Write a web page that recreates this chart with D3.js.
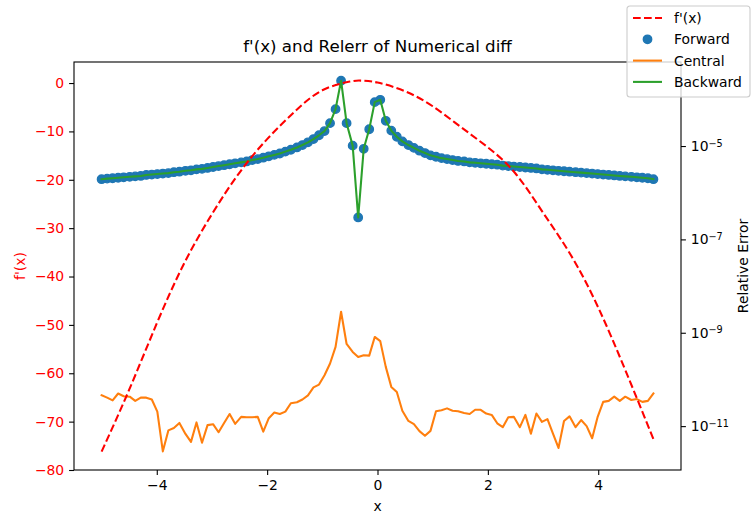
<!DOCTYPE html>
<html>
<head>
<meta charset="utf-8">
<script src="https://cdnjs.cloudflare.com/ajax/libs/d3/7.8.5/d3.min.js"></script>
<style>
  body { margin: 0; background: #fff; }
  text { font-family: "DejaVu Sans", sans-serif; }
</style>
</head>
<body>
<script>
// sample grid (100 points between -5 and 5)
var xs = [
  -5.00,-4.90,-4.80,-4.70,-4.60,-4.49,-4.39,-4.29,-4.19,-4.09,
  -3.99,-3.89,-3.79,-3.69,-3.59,-3.48,-3.38,-3.28,-3.18,-3.08,
  -2.98,-2.88,-2.78,-2.68,-2.58,-2.47,-2.37,-2.27,-2.17,-2.07,
  -1.97,-1.87,-1.77,-1.67,-1.57,-1.46,-1.36,-1.26,-1.16,-1.06,
  -0.96,-0.86,-0.76,-0.66,-0.56,-0.45,-0.35,-0.25,-0.15,-0.05,
   0.05, 0.15, 0.25, 0.35, 0.45, 0.56, 0.66, 0.76, 0.86, 0.96,
   1.06, 1.16, 1.26, 1.36, 1.46, 1.57, 1.67, 1.77, 1.87, 1.97,
   2.07, 2.17, 2.27, 2.37, 2.47, 2.58, 2.68, 2.78, 2.88, 2.98,
   3.08, 3.18, 3.28, 3.38, 3.48, 3.59, 3.69, 3.79, 3.89, 3.99,
   4.09, 4.19, 4.29, 4.39, 4.49, 4.60, 4.70, 4.80, 4.90, 5.00
];

// relative error of the forward difference (right axis, log)
var forwardErr = [
  1.95e-6,2.00e-6,2.04e-6,2.09e-6,2.14e-6,2.19e-6,2.24e-6,2.29e-6,2.40e-6,2.45e-6,
  2.51e-6,2.57e-6,2.63e-6,2.75e-6,2.82e-6,2.95e-6,3.02e-6,3.16e-6,3.24e-6,3.39e-6,
  3.55e-6,3.72e-6,3.89e-6,4.07e-6,4.27e-6,4.47e-6,4.68e-6,5.01e-6,5.25e-6,5.62e-6,
  6.03e-6,6.46e-6,6.92e-6,7.59e-6,8.32e-6,9.33e-6,1.05e-5,1.20e-5,1.41e-5,1.70e-5,
  2.09e-5,3.09e-5,6.17e-5,2.51e-4,3.09e-5,1.02e-5,2.95e-7,8.71e-6,2.29e-5,8.71e-5,
  9.77e-5,3.47e-5,2.14e-5,1.58e-5,1.26e-5,1.05e-5,9.12e-6,7.94e-6,7.08e-6,6.31e-6,
  5.89e-6,5.50e-6,5.25e-6,5.01e-6,4.79e-6,4.68e-6,4.47e-6,4.37e-6,4.27e-6,4.17e-6,
  4.07e-6,3.98e-6,3.80e-6,3.72e-6,3.63e-6,3.55e-6,3.47e-6,3.39e-6,3.31e-6,3.16e-6,
  3.09e-6,3.02e-6,2.95e-6,2.88e-6,2.82e-6,2.75e-6,2.69e-6,2.63e-6,2.57e-6,2.51e-6,
  2.45e-6,2.40e-6,2.34e-6,2.29e-6,2.24e-6,2.19e-6,2.14e-6,2.09e-6,2.04e-6,1.95e-6
];

// relative error of the central difference
var centralErr = [
  4.57e-11,4.07e-11,3.55e-11,5.00e-11,4.37e-11,4.27e-11,3.47e-11,4.07e-11,4.07e-11,3.72e-11,
  2.04e-11,2.88e-12,8.10e-12,9.10e-12,1.17e-11,6.80e-12,4.60e-12,1.20e-11,4.40e-12,1.05e-11,
  1.10e-11,7.40e-12,1.17e-11,1.82e-11,1.12e-11,1.58e-11,1.55e-11,1.55e-11,1.58e-11,7.60e-12,
  1.48e-11,1.95e-11,1.82e-11,2.04e-11,3.09e-11,3.24e-11,3.72e-11,4.57e-11,6.76e-11,7.76e-11,
  1.23e-10,2.19e-10,5.00e-10,2.82e-9, 5.75e-10,3.89e-10,3.02e-10,3.31e-10,3.24e-10,8.13e-10,
  6.61e-10,1.86e-10,6.92e-11,5.37e-11,2.14e-11,1.29e-11,1.10e-11,7.80e-12,6.20e-12,7.90e-12,
  2.09e-11,2.19e-11,2.40e-11,2.14e-11,2.09e-11,1.91e-11,1.82e-11,2.24e-11,2.24e-11,1.86e-11,
  1.74e-11,1.15e-11,9.50e-12,1.55e-11,1.58e-11,9.50e-12,1.74e-11,6.90e-12,1.86e-11,1.23e-11,
  1.41e-11,6.90e-12,3.40e-12,1.29e-11,1.62e-11,9.50e-12,1.35e-11,1.00e-11,5.50e-12,1.58e-11,
  3.31e-11,3.47e-11,4.27e-11,3.47e-11,4.27e-11,3.63e-11,3.80e-11,3.31e-11,3.47e-11,5.00e-11
];

// backward difference error sits right on top of the forward one in the picture
var backwardErr = forwardErr.slice();

// f'(x) (left axis)
var fpX = [-5.0,-4.5,-4.0,-3.5,-3.0,-2.5,-2.0,-1.5,-1.0,-0.5,-0.3, 0.0, 0.5, 1.0, 1.5, 2.0, 2.5, 3.0, 3.5, 4.0, 4.5, 5.0];
var fpY = [-76.2,-63.4,-49.7,-37.2,-27.1,-18.5,-11.6,-5.9,-1.5,0.3,0.5,0.1,-1.7,-4.8,-9.0,-13.3,-18.7,-26.8,-35.5,-46.4,-59.6,-73.6];

var xTicks = [-4, -2, 0, 2, 4];
var leftTicks = [0, -10, -20, -30, -40, -50, -60, -70, -80];
var rightTicks = [1e-5, 1e-7, 1e-9, 1e-11];
var rightTickExp = ["\u22125", "\u22127", "\u22129", "\u221211"];

var width = 751,
    height = 513;

// plot box
var padL = 74, padR = 681, padT = 62, padB = 470;

var svg = d3.select("body").append("svg")
    .attr("width", width)
    .attr("height", height);

var x = d3.scaleLinear().domain([-5.5, 5.5]).range([padL, padR]);
var yL = d3.scaleLinear().domain([-80.0, 4.35]).range([padB, padT]);
var yR = d3.scaleLog().domain([Math.pow(10, -11.94), Math.pow(10, -3.2)]).range([padB, padT]);

svg.append("defs").append("clipPath").attr("id", "clip")
  .append("rect")
    .attr("x", padL).attr("y", padT)
    .attr("width", padR - padL).attr("height", padB - padT);

var plot = svg.append("g").attr("clip-path", "url(#clip)");

// forward: markers only
plot.append("g").selectAll("circle")
    .data(forwardErr)
    .enter().append("circle")
    .attr("cx", function(d, i) { return x(xs[i]); })
    .attr("cy", function(d) { return yR(d); })
    .attr("r", 4.2)
    .attr("fill", "#1f77b4")
    .attr("stroke", "#1f77b4")
    .attr("stroke-width", 1.4);

var errLine = function(arr) {
  return d3.line()
    .x(function(d, i) { return x(xs[i]); })
    .y(function(d) { return yR(d); })(arr);
};

plot.append("path")
    .attr("d", errLine(centralErr))
    .attr("fill", "none")
    .attr("stroke", "#ff7f0e")
    .attr("stroke-width", 2.08)
    .attr("stroke-linejoin", "round")
    .attr("stroke-linecap", "square");

plot.append("path")
    .attr("d", errLine(backwardErr))
    .attr("fill", "none")
    .attr("stroke", "#2ca02c")
    .attr("stroke-width", 2.08)
    .attr("stroke-linejoin", "round")
    .attr("stroke-linecap", "square");

// f'(x) dashed
var fpLine = d3.line()
    .curve(d3.curveNatural)
    .x(function(d, i) { return x(fpX[i]); })
    .y(function(d) { return yL(d); });

plot.append("path")
    .attr("d", fpLine(fpY))
    .attr("fill", "none")
    .attr("stroke", "#ff0000")
    .attr("stroke-width", 2.08)
    .attr("stroke-dasharray", "7.7,3.3");

// frame
svg.append("rect")
    .attr("x", padL).attr("y", padT)
    .attr("width", padR - padL).attr("height", padB - padT)
    .attr("fill", "none")
    .attr("stroke", "#000")
    .attr("stroke-width", 1.1);

// axes
var xAxis = svg.append("g")
    .attr("transform", "translate(0," + padB + ")")
    .call(d3.axisBottom(x).tickValues(xTicks).tickSize(4.9).tickPadding(4.9).tickSizeOuter(0));

var yAxisL = svg.append("g")
    .attr("transform", "translate(" + padL + ",0)")
    .call(d3.axisLeft(yL).tickValues(leftTicks).tickSize(4.9).tickPadding(4.9).tickSizeOuter(0));

var yAxisR = svg.append("g")
    .attr("transform", "translate(" + padR + ",0)")
    .call(d3.axisRight(yR).tickValues(rightTicks).tickSize(4.9).tickPadding(4.9).tickSizeOuter(0).tickFormat(function() { return ""; }));

[xAxis, yAxisL, yAxisR].forEach(function(g) {
  g.select(".domain").remove();
  g.selectAll(".tick line").attr("stroke", "#000").attr("stroke-width", 1.1);
  g.selectAll("text").attr("font-size", "13.9px").attr("font-family", "DejaVu Sans").attr("fill", "#000");
});
yAxisL.selectAll("text").attr("fill", "#ff0000");

// power-of-ten labels on the right
yAxisR.selectAll(".tick text").each(function(d, i) {
  var t = d3.select(this).text("10");
  t.append("tspan")
    .attr("dy", "-0.45em")
    .attr("font-size", "9.7px")
    .text(rightTickExp[i]);
});

// title and labels
svg.append("text")
    .attr("x", (padL + padR) / 2)
    .attr("y", 52)
    .attr("text-anchor", "middle")
    .attr("font-size", "16.7px")
    .text("f'(x) and Relerr of Numerical diff");

svg.append("text")
    .attr("x", (padL + padR) / 2)
    .attr("y", 511)
    .attr("text-anchor", "middle")
    .attr("font-size", "13.9px")
    .text("x");

svg.append("text")
    .attr("transform", "translate(25," + ((padT + padB) / 2) + ") rotate(-90)")
    .attr("text-anchor", "middle")
    .attr("font-size", "13.9px")
    .attr("fill", "#ff0000")
    .text("f'(x)");

svg.append("text")
    .attr("transform", "translate(748," + ((padT + padB) / 2) + ") rotate(-90)")
    .attr("text-anchor", "middle")
    .attr("font-size", "13.9px")
    .text("Relative Error");

// legend (figure level, upper right)
var legend = svg.append("g").attr("transform", "translate(627,6)");

legend.append("rect")
    .attr("x", 0).attr("y", 0)
    .attr("width", 123).attr("height", 91)
    .attr("rx", 3)
    .attr("fill", "#fff")
    .attr("fill-opacity", 0.8)
    .attr("stroke", "#cccccc")
    .attr("stroke-width", 1.1);

var legendItems = [
  { label: "f'(x)", kind: "dash", color: "#ff0000" },
  { label: "Forward", kind: "dot", color: "#1f77b4" },
  { label: "Central", kind: "line", color: "#ff7f0e" },
  { label: "Backward", kind: "line", color: "#2ca02c" }
];

var rows = legend.selectAll("g.item")
    .data(legendItems)
    .enter().append("g")
    .attr("class", "item")
    .attr("transform", function(d, i) { return "translate(0," + (12 + i * 21.3) + ")"; });

rows.each(function(d) {
  var g = d3.select(this);
  if (d.kind === "dot") {
    g.append("circle").attr("cx", 20.5).attr("cy", 0).attr("r", 4.2)
      .attr("fill", d.color).attr("stroke", d.color).attr("stroke-width", 1.4);
  } else {
    g.append("line").attr("x1", 6).attr("x2", 35).attr("y1", 0).attr("y2", 0)
      .attr("stroke", d.color).attr("stroke-width", 2.08)
      .attr("stroke-dasharray", d.kind === "dash" ? "7.7,3.3" : null);
  }
  g.append("text").attr("x", 47).attr("y", 5)
    .attr("font-size", "13.9px")
    .text(d.label);
});
</script>
</body>
</html>
